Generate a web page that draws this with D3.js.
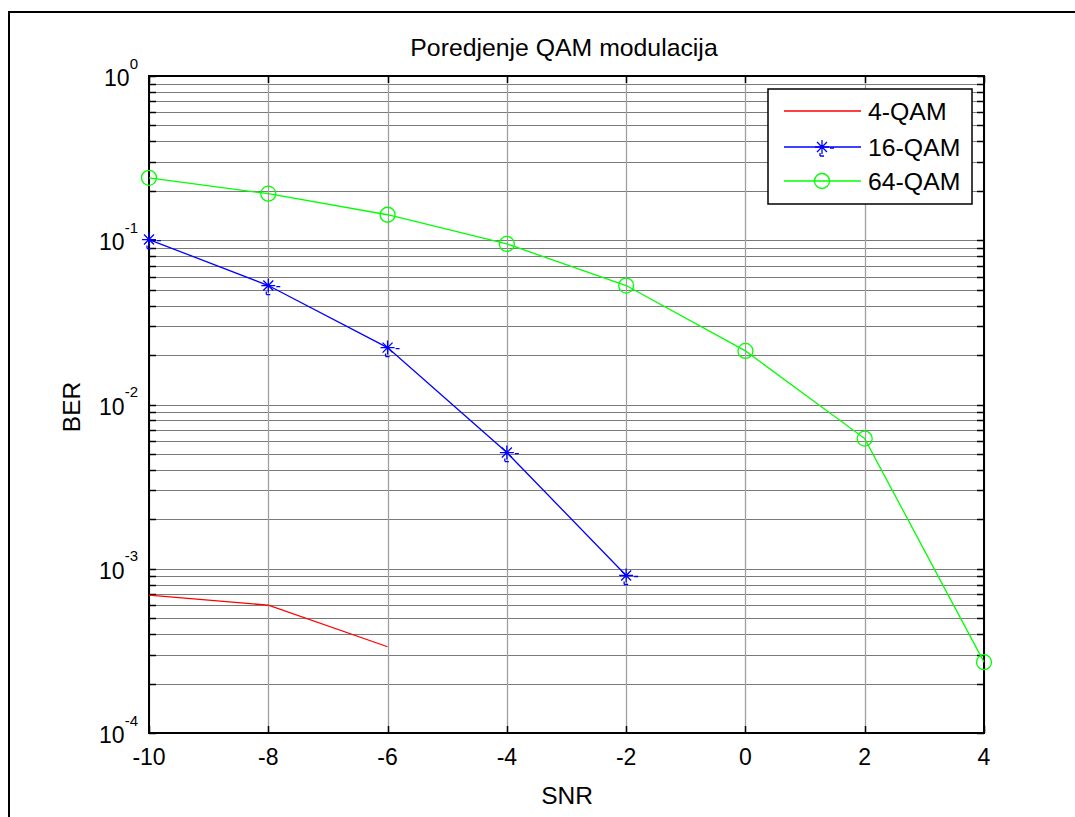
<!DOCTYPE html>
<html>
<head>
<meta charset="utf-8">
<script src="https://cdn.jsdelivr.net/npm/d3@7"></script>
<style>
  html, body { margin: 0; padding: 0; background: #fff; }
  svg { display: block; font-family: Arial, "Liberation Sans", sans-serif; }
</style>
</head>
<body>
<svg id="chart" width="1075" height="817"></svg>
<script>
// ---- data ----
const snr = [-10, -8, -6, -4, -2, 0, 2, 4];
const qam4 = [6.9e-4, 6.0e-4, 3.35e-4];
const qam16 = [0.101, 0.053, 0.0222, 0.0051, 9.1e-4];
const qam64 = [0.240, 0.192, 0.143, 0.095, 0.053, 0.0212, 0.0062, 2.7e-4];
const seriesNames = ["4-QAM", "16-QAM", "64-QAM"];
const xTicks = [-10, -8, -6, -4, -2, 0, 2, 4];
const yDecades = [-4, -3, -2, -1, 0];
const titleText = "Poredjenje QAM modulacija";
const xLabel = "SNR";
const yLabel = "BER";

// ---- layout ----
const svg = d3.select("#chart");
const L = 149, R = 984, T = 76, B = 733;
const x = d3.scaleLinear().domain([-10, 4]).range([L, R]);
const y = d3.scaleLog().domain([1e-4, 1]).range([B, T]);

// outer figure frame
svg.append("rect").attr("x", 9).attr("y", 12).attr("width", 1200).attr("height", 1000)
  .attr("fill", "none").attr("stroke", "#000").attr("stroke-width", 2);

const yMinor = [];
for (let e = -4; e < 0; e++) for (let m = 2; m <= 9; m++) yMinor.push(m * Math.pow(10, e));
const yMajor = yDecades.map(e => Math.pow(10, e));

const g = svg.append("g");
g.selectAll(".hg").data(yMajor.concat(yMinor)).enter().append("line")
  .attr("x1", L).attr("x2", R)
  .attr("y1", d => Math.round(y(d)) + 0.5).attr("y2", d => Math.round(y(d)) + 0.5)
  .attr("stroke", "#7a7a7a").attr("stroke-width", 1);
g.selectAll(".vg").data(xTicks).enter().append("line")
  .attr("y1", T).attr("y2", B)
  .attr("x1", d => Math.round(x(d)) + 0.5).attr("x2", d => Math.round(x(d)) + 0.5)
  .attr("stroke", "#a0a0a0").attr("stroke-width", 1.3);

// ticks (inside)
const tk = 7;
const ticks = svg.append("g").attr("stroke", "#000").attr("stroke-width", 1.5);
yMajor.concat(yMinor).forEach(v => {
  const yy = Math.round(y(v)) + 0.5;
  ticks.append("line").attr("x1", L).attr("x2", L + tk).attr("y1", yy).attr("y2", yy);
  ticks.append("line").attr("x1", R).attr("x2", R - tk).attr("y1", yy).attr("y2", yy);
});
xTicks.forEach(v => {
  const xx = Math.round(x(v)) + 0.5;
  ticks.append("line").attr("x1", xx).attr("x2", xx).attr("y1", B).attr("y2", B - tk);
  ticks.append("line").attr("x1", xx).attr("x2", xx).attr("y1", T).attr("y2", T + tk);
});

svg.append("rect").attr("x", L).attr("y", T).attr("width", R - L).attr("height", B - T)
  .attr("fill", "none").attr("stroke", "#000").attr("stroke-width", 2);

// x tick labels
svg.append("g").selectAll("text").data(xTicks).enter().append("text")
  .attr("x", d => x(d)).attr("y", 765).attr("text-anchor", "middle")
  .attr("font-size", 23).attr("fill", "#000").text(d => d);

// y tick labels
const yl = svg.append("g").selectAll("text").data(yDecades).enter().append("text")
  .attr("x", 138).attr("y", d => y(Math.pow(10, d)) + 10).attr("text-anchor", "end")
  .attr("fill", "#000");
yl.append("tspan").attr("font-size", 23).text("10");
yl.append("tspan").attr("font-size", 15).attr("dy", -17.5).text(d => d);

// title & axis labels
svg.append("text").attr("x", 564).attr("y", 56).attr("text-anchor", "middle")
  .attr("font-size", 24.8).text(titleText);
svg.append("text").attr("x", 567).attr("y", 804).attr("text-anchor", "middle")
  .attr("font-size", 24.5).text(xLabel);
svg.append("text").attr("transform", "translate(80,407) rotate(-90)").attr("text-anchor", "middle")
  .attr("font-size", 24.5).text(yLabel);

// lines
const line = d3.line().x(d => x(d[0])).y(d => y(d[1]));
const colors = ["#ff0000", "#0000ff", "#00ff00"];
const data = [qam4, qam16, qam64].map(arr => arr.map((v, i) => [snr[i], v]));
const plot = svg.append("g");
data.forEach((pts, i) => {
  plot.append("path").datum(pts).attr("d", line).attr("fill", "none")
    .attr("stroke", colors[i]).attr("stroke-width", 1.3);
});
const star = (s, dd) => `M${-s},0L${s},0M0,${-s}L0,${s}M${-dd},${-dd}L${dd},${dd}M${-dd},${dd}L${dd},${-dd}` +
  `M${s + 1},1L${s + 5},1M-2,${s + 2}L2,${s + 2}M-2,${s - 1}L-2,${s + 2}`;
plot.selectAll(".st").data(data[1]).enter().append("path")
  .attr("transform", d => `translate(${x(d[0])},${y(d[1])})`)
  .attr("d", star(7, 5)).attr("stroke", colors[1]).attr("stroke-width", 1.3).attr("fill", "none");
plot.selectAll(".ci").data(data[2]).enter().append("circle")
  .attr("cx", d => x(d[0])).attr("cy", d => y(d[1])).attr("r", 7.5)
  .attr("fill", "none").attr("stroke", colors[2]).attr("stroke-width", 1.3);

// legend
const lg = svg.append("g");
lg.append("rect").attr("x", 768).attr("y", 89).attr("width", 204).attr("height", 115)
  .attr("fill", "#fff").attr("stroke", "#000").attr("stroke-width", 1.5);
const rowY = [111, 147, 181];
seriesNames.forEach((name, i) => {
  lg.append("line").attr("x1", 784).attr("x2", 861).attr("y1", rowY[i]).attr("y2", rowY[i])
    .attr("stroke", colors[i]).attr("stroke-width", 1.3);
  if (i === 1) lg.append("path").attr("transform", `translate(822,${rowY[i]})`).attr("d", star(7, 5))
    .attr("stroke", colors[i]).attr("stroke-width", 1.3).attr("fill", "none");
  if (i === 2) lg.append("circle").attr("cx", 822).attr("cy", rowY[i]).attr("r", 7.5)
    .attr("fill", "none").attr("stroke", colors[i]).attr("stroke-width", 1.3);
  lg.append("text").attr("x", 868).attr("y", rowY[i] + 8.5).attr("font-size", 24.8).text(name);
});
</script>
</body>
</html>
